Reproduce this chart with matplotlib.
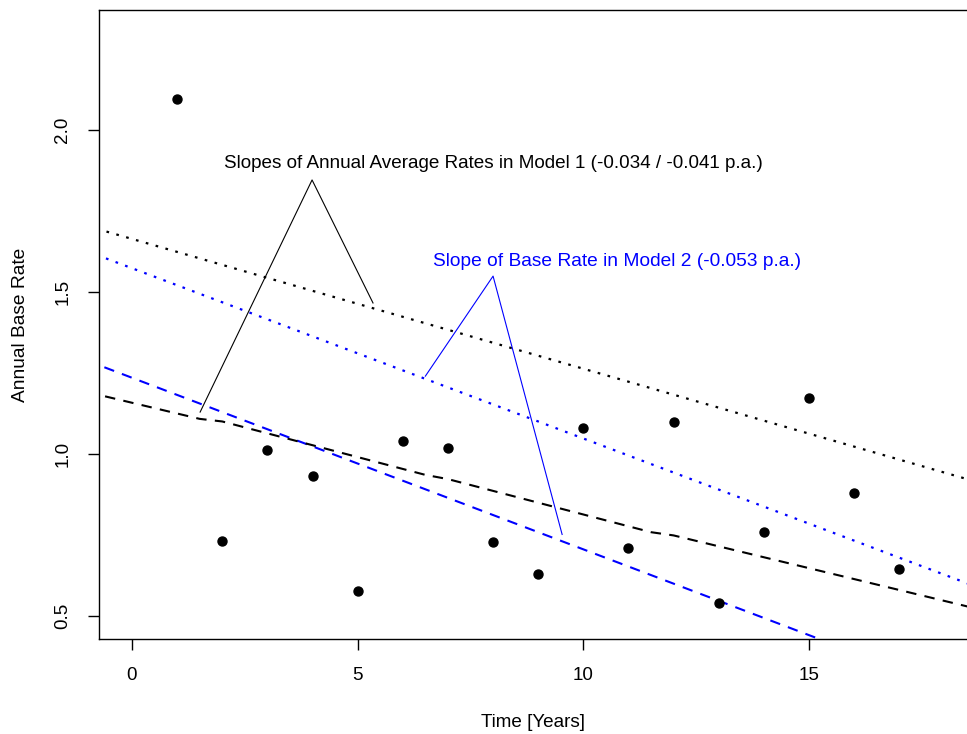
import numpy as np
import matplotlib.pyplot as plt

plt.rcParams['font.family'] = ['Liberation Sans', 'DejaVu Sans']

# observed annual base rates
years = [1, 2, 3, 4, 5, 6, 7, 8, 9, 10, 11, 12, 13, 14, 15, 16, 17]
rates = [2.096, 0.732, 1.013, 0.932, 0.576, 1.039, 1.017, 0.728, 0.628,
         1.080, 0.710, 1.099, 0.540, 0.758, 1.171, 0.880, 0.643]

# model 1, annual average rates (dashed, piecewise)
m1_dash_x = [-1, 1.5, 2, 6.5, 7, 11.5, 12, 19]
m1_dash_y = [1.191, 1.108, 1.100, 0.935, 0.922, 0.758, 0.748, 0.512]
# model 1 dotted
m1_dot_x = [-1, 19]
m1_dot_y = [1.704, 0.902]
# model 2 base rate
m2_dot_x = [-1, 19]
m2_dot_y = [1.626, 0.574]
m2_dash_x = [-1, 19]
m2_dash_y = [1.288, 0.228]

# annotation pointer lines
ann1_x = [1.51, 3.99, 5.34]
ann1_y = [1.129, 1.846, 1.466]
ann2_x = [6.50, 8.00, 9.53]
ann2_y = [1.240, 1.549, 0.751]

fig = plt.figure(figsize=(9.67, 7.34), dpi=100)
ax = fig.add_axes([0.1024, 0.1294, 0.8976, 0.857])

blue = '#0000FF'
ax.plot(m1_dot_x, m1_dot_y, color='black', lw=1.6, linestyle=(0, (1.2, 3.4)))
ax.plot(m2_dot_x, m2_dot_y, color=blue, lw=1.6, linestyle=(0, (1.2, 3.4)))
ax.plot(m2_dash_x, m2_dash_y, color=blue, lw=1.5, linestyle=(0, (5, 4)))
ax.plot(m1_dash_x, m1_dash_y, color='black', lw=1.5, linestyle=(0, (5, 4)))
ax.scatter(years, rates, s=42, color='black', zorder=3)

ax.plot(ann1_x, ann1_y, color='black', lw=0.8)
ax.plot(ann2_x, ann2_y, color=blue, lw=0.8)
ax.text(8.0, 1.898, 'Slopes of Annual Average Rates in Model 1 (-0.034 / -0.041 p.a.)',
        ha='center', va='center', fontsize=13.6, color='black')
ax.text(10.75, 1.593, 'Slope of Base Rate in Model 2 (-0.053 p.a.)',
        ha='center', va='center', fontsize=13.8, color=blue)

ax.set_xlim(-0.73, 18.5)
ax.set_ylim(0.428, 2.371)
ax.set_xticks([0, 5, 10, 15])
ax.set_yticks([0.5, 1.0, 1.5, 2.0])
ax.set_yticklabels(['0.5', '1.0', '1.5', '2.0'], rotation=90, va='center')
ax.tick_params(direction='out', length=8, width=1, labelsize=13.6, pad=12)
ax.spines['right'].set_visible(False)
for s in ['left', 'top', 'bottom']:
    ax.spines[s].set_linewidth(1)

ax.set_xlabel('Time [Years]', fontsize=13.6, labelpad=22)
ax.set_ylabel('Annual Base Rate', fontsize=13.8, labelpad=18)

plt.savefig('out.png', dpi=100)
